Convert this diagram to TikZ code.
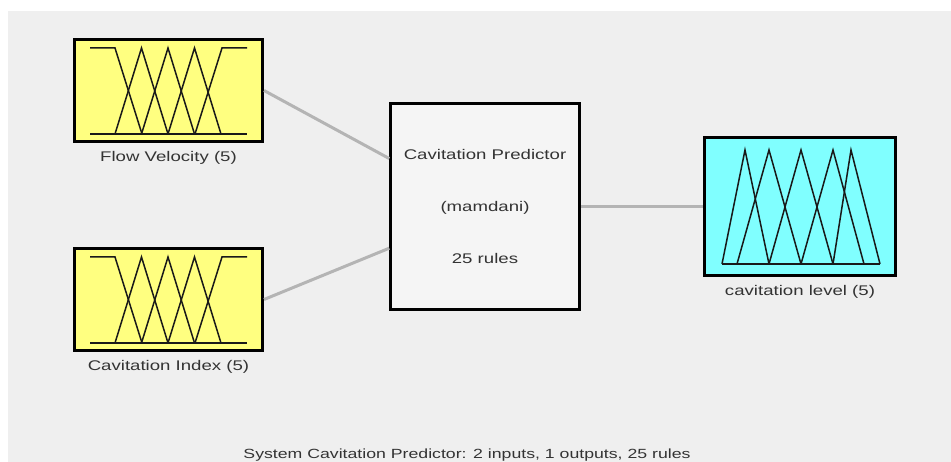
\documentclass[tikz,border=0pt]{standalone}
\usepackage{fontspec}
\setmainfont{Liberation Sans}[FakeStretch=1.33]
\usepackage{tikz}
\usetikzlibrary{calc,positioning}
\definecolor{bg}{HTML}{EFEFEF}
\definecolor{inyellow}{HTML}{FFFF80}
\definecolor{outcyan}{HTML}{80FFFF}
\definecolor{wire}{HTML}{B4B4B4}
\definecolor{txt}{HTML}{333333}
\tikzset{
	varbox/.style={draw=black,line width=3pt,inner sep=0pt},
	rulebox/.style={draw=black,line width=2.5pt,fill=bg!60!white,align=center,text=txt,
		minimum width=189pt,minimum height=206pt,font=\fontsize{14}{16}\selectfont},
	lbl/.style={inner sep=0pt,text=txt,font=\fontsize{14}{16}\selectfont},
	mf/.style={line width=1.5pt,draw=black!90},
	wire/.style={draw=wire,line width=3pt}
}
\begin{document}
\begin{tikzpicture}[x=1pt,y=-1pt]
		\useasboundingbox (0,0) rectangle (951,462);
		\fill[bg] (8,11) rectangle (951,462);
		% inputs
		\node(1) [varbox,fill=inyellow,minimum width=188pt,minimum height=102pt] at (168.5,90.5) {};
		\node(3) [varbox,fill=inyellow,minimum width=188pt,minimum height=102pt] at (168.5,299.5) {};
		\node(1l) [lbl,below=8pt of 1] {Flow Velocity (5)};
		\node(3l) [lbl,below=8pt of 3] {Cavitation Index (5)};
		% rule block
		\node(2) [rulebox] at (485,206.5) {Cavitation Predictor\\[36pt](mamdani)\\[36pt]25 rules};
		% output
		\node(4) [varbox,fill=outcyan,minimum width=191pt,minimum height=138pt] at (800,206.5) {};
		\node(4l) [lbl,below=8pt of 4] {cavitation level (5)};
		\path[wire]
			(1.east) edge ($(2.north west)!0.27!(2.south west)$)
			(3.east) edge ($(2.north west)!0.70!(2.south west)$)
			(2.east) edge (4.west);
		% membership functions
		\foreach \dy in {0,209}{
			\begin{scope}[yshift=-\dy pt]
				\draw[mf] (90,134) -- (247,134);
				\draw[mf] (90,48) -- (115,48) -- (142,134);
				\foreach \a in {115,141.5,168} \draw[mf] (\a,134) -- ++(26.5,-86) -- ++(26.5,86);
				\draw[mf] (195,134) -- (222,48) -- (247,48);
			\end{scope}
		}
		\draw[mf] (722,264) -- (880,264);
		\foreach \a/\b/\c in {722/745/769,737/769/801,769/801/833,801/833/864,833/851/880}
			\draw[mf] (\a,264) -- (\b,150) -- (\c,264);
		\node(5) [lbl,font=\fontsize{13.3}{15}\selectfont] at (467,455) {System Cavitation Predictor: 2 inputs, 1 outputs, 25 rules};
	\end{tikzpicture}
\end{document}
